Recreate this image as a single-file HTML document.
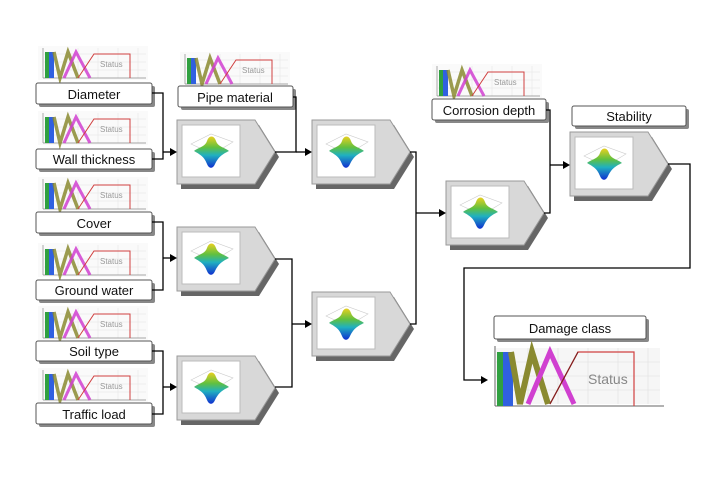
<!DOCTYPE html>
<html><head><style>
body{margin:0;background:#fff;}
svg{display:block;}
text{font-family:"Liberation Sans",sans-serif;}
</style></head><body>
<svg width="720" height="480" viewBox="0 0 720 480" xmlns="http://www.w3.org/2000/svg">
<defs>
<linearGradient id="surf" x1="0" y1="0" x2="0" y2="1">
<stop offset="0" stop-color="#e8d020"/><stop offset="0.35" stop-color="#60c040"/><stop offset="0.6" stop-color="#20b0c0"/><stop offset="1" stop-color="#1030d0"/></linearGradient>
<g id="node">
<polygon points="4,5 82,5 102,37 82,69 4,69" fill="#666"/>
<polygon points="0,0 78,0 98,32 78,64 0,64" fill="#d8d8d8" stroke="#999" stroke-width="1"/>
<rect x="5" y="5" width="58" height="52" fill="#fff" stroke="#bbb"/>
<polygon points="14,24 34,14 56,22 36,34" fill="none" stroke="#ccc" stroke-width="0.6"/>
<path d="M17,31 C22,27 28,27 30,21 C32,15 37,15 39,21 C41,27 47,27 52,31 C46,34 42,36 38,44 C36,49 32,49 30,44 C27,36 22,34 17,31 Z" fill="url(#surf)"/>
</g>
<g id="mini">
<rect x="0" y="0" width="110" height="34" fill="#fafafa"/>
<g stroke="#e4e4e4" stroke-width="0.5"><line x1="6" y1="8" x2="108" y2="8"/><line x1="6" y1="16" x2="108" y2="16"/><line x1="6" y1="24" x2="108" y2="24"/><line x1="40" y1="2" x2="40" y2="32"/><line x1="60" y1="2" x2="60" y2="32"/><line x1="80" y1="2" x2="80" y2="32"/><line x1="100" y1="2" x2="100" y2="32"/></g>
<line x1="5" y1="32" x2="108" y2="32" stroke="#888" stroke-width="0.7"/>
<line x1="5" y1="2" x2="5" y2="32" stroke="#888" stroke-width="0.7"/>
<rect x="7" y="6" width="4" height="26" fill="#30a040"/>
<rect x="11" y="6" width="5" height="26" fill="#3060e0"/>
<polyline points="16,6 22,32 30,6 40,32" fill="none" stroke="#8a8a30" stroke-width="3.5" opacity="0.85"/>
<polyline points="26,32 38,6 52,32" fill="none" stroke="#d040d0" stroke-width="3" opacity="0.85"/>
<polyline points="40,32 56,8 92,8 92,32" fill="none" stroke="#d04040" stroke-width="1"/>
<text x="62" y="21" font-size="8" fill="#999">Status</text>
</g>
</defs>

<use href="#mini" x="38" y="46"/>
<use href="#mini" x="38" y="111"/>
<use href="#mini" x="38" y="177"/>
<use href="#mini" x="38" y="243"/>
<use href="#mini" x="38" y="306"/>
<use href="#mini" x="38" y="368"/>
<use href="#mini" x="180" y="52"/>
<use href="#mini" x="432" y="64"/>

<g fill="#888">
<rect x="39" y="86" width="116" height="21" rx="2"/>
<rect x="39" y="152" width="116" height="20" rx="2"/>
<rect x="39" y="215" width="116" height="21" rx="2"/>
<rect x="39" y="283" width="116" height="20" rx="2"/>
<rect x="39" y="344" width="116" height="20" rx="2"/>
<rect x="39" y="406" width="116" height="21" rx="2"/>
<rect x="181" y="89" width="115" height="21" rx="2"/>
<rect x="435" y="102" width="114" height="21" rx="2"/>
<rect x="575" y="109" width="114" height="20" rx="2"/>
<rect x="497" y="319" width="152" height="23" rx="2"/>
</g>
<g fill="#fff" stroke="#555" stroke-width="1">
<rect x="36" y="83" width="116" height="21" rx="2"/>
<rect x="36" y="149" width="116" height="20" rx="2"/>
<rect x="36" y="212" width="116" height="21" rx="2"/>
<rect x="36" y="280" width="116" height="20" rx="2"/>
<rect x="36" y="341" width="116" height="20" rx="2"/>
<rect x="36" y="403" width="116" height="21" rx="2"/>
<rect x="178" y="86" width="115" height="21" rx="2"/>
<rect x="432" y="99" width="114" height="21" rx="2"/>
<rect x="572" y="106" width="114" height="20" rx="2"/>
<rect x="494" y="316" width="152" height="23" rx="2"/>
</g>
<g font-size="13" text-anchor="middle" fill="#111">
<text x="94" y="99">Diameter</text>
<text x="94" y="164">Wall thickness</text>
<text x="94" y="228">Cover</text>
<text x="94" y="295">Ground water</text>
<text x="94" y="356">Soil type</text>
<text x="94" y="419">Traffic load</text>
<text x="235" y="102">Pipe material</text>
<text x="489" y="115">Corrosion depth</text>
<text x="629" y="121">Stability</text>
<text x="570" y="333">Damage class</text>
</g>

<use href="#node" x="177" y="120"/>
<use href="#node" x="177" y="227"/>
<use href="#node" x="177" y="356"/>
<use href="#node" x="312" y="120"/>
<use href="#node" x="312" y="292"/>
<use href="#node" x="446" y="181"/>
<use href="#node" x="570" y="132"/>

<g fill="none" stroke="#000" stroke-width="1.3">
<polyline points="152,93 163,93 163,159 152,159"/>
<line x1="163" y1="152" x2="172" y2="152"/>
<polyline points="152,222 163,222 163,290 152,290"/>
<line x1="163" y1="258" x2="172" y2="258"/>
<polyline points="152,351 163,351 163,414 152,414"/>
<line x1="163" y1="387" x2="172" y2="387"/>
<polyline points="293,97 296,97 296,152 275,152"/>
<line x1="296" y1="152" x2="307" y2="152"/>
<polyline points="275,259 292,259 292,387 275,387"/>
<line x1="292" y1="324" x2="307" y2="324"/>
<polyline points="410,152 416,152 416,324 410,324"/>
<line x1="416" y1="213" x2="441" y2="213"/>
<polyline points="544,213 550,213 550,110 546,110"/>
<line x1="550" y1="165" x2="565" y2="165"/>
<polyline points="668,164 690,164 690,268 464,268 464,380 482,380"/>
</g>
<g fill="#000">
<polygon points="177,152 170,148 170,156"/>
<polygon points="177,258 170,254 170,262"/>
<polygon points="177,387 170,383 170,391"/>
<polygon points="312,152 305,148 305,156"/>
<polygon points="312,324 305,320 305,328"/>
<polygon points="446,213 439,209 439,217"/>
<polygon points="570,165 563,161 563,169"/>
<polygon points="488,380 481,376 481,384"/>
</g>

<g transform="translate(488,344)">
<rect x="8" y="4" width="164" height="56" fill="#f6f6f6"/>
<g stroke="#e0e0e0" stroke-width="0.6">
<line x1="8" y1="18" x2="172" y2="18"/><line x1="8" y1="32" x2="172" y2="32"/><line x1="8" y1="46" x2="172" y2="46"/>
<line x1="40" y1="4" x2="40" y2="60"/><line x1="70" y1="4" x2="70" y2="60"/><line x1="100" y1="4" x2="100" y2="60"/><line x1="130" y1="4" x2="130" y2="60"/><line x1="160" y1="4" x2="160" y2="60"/></g>
<line x1="7" y1="62" x2="176" y2="62" stroke="#666"/>
<line x1="7" y1="2" x2="7" y2="62" stroke="#666"/>
<rect x="9" y="8" width="6" height="54" fill="#30a040"/>
<rect x="15" y="8" width="10" height="54" fill="#3060e0"/>
<polyline points="23,8 32,60 44,8 60,60" fill="none" stroke="#8a8a30" stroke-width="6"/>
<polyline points="40,60 62,8 86,60" fill="none" stroke="#d040d0" stroke-width="5"/>
<polyline points="62,60 90,8 146,8 146,62" fill="none" stroke="#d04040" stroke-width="1.2"/>
<line x1="62" y1="60" x2="90" y2="8" stroke="#802020" stroke-width="1.2"/>
<text x="100" y="40" font-size="14" fill="#888">Status</text>
</g>
</svg>
</body></html>
